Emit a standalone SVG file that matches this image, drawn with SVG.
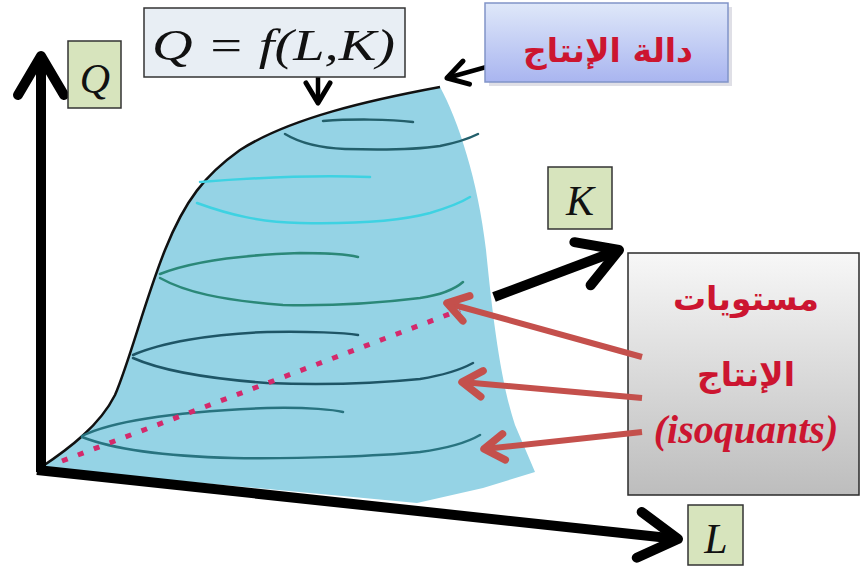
<svg xmlns="http://www.w3.org/2000/svg" width="861" height="566" viewBox="0 0 861 566">
<style>
.axis{stroke:#000;stroke-width:10;fill:none;stroke-linecap:butt}
.thin{stroke:#000;stroke-width:4.5;fill:none}
.red{stroke:#c4504c;stroke-width:6;fill:none}
.iso{fill:none;stroke-width:2.5;stroke-linecap:round}
.lbl{fill:#d7e4bd;stroke:#333;stroke-width:1.5}
.math{font-family:"Liberation Serif","Times New Roman",serif;font-style:italic;fill:#111}
.ar{font-family:"DejaVu Sans","Noto Sans",sans-serif;font-weight:bold;fill:#cc1530;text-anchor:middle}
</style>
<defs>
<marker id="bigHead" markerUnits="userSpaceOnUse" viewBox="0 0 50 50" markerWidth="50" markerHeight="50" refX="45" refY="25" orient="auto" overflow="visible">
<path d="M6,2 L45,25 L6,48" fill="none" stroke="#000" stroke-width="10" stroke-linecap="round" stroke-linejoin="round"/>
</marker>
<marker id="smallHead" markerUnits="userSpaceOnUse" viewBox="0 0 30 30" markerWidth="30" markerHeight="30" refX="26" refY="15" orient="auto" overflow="visible">
<path d="M6,3 L26,15 L6,27" fill="none" stroke="#000" stroke-width="5" stroke-linecap="round" stroke-linejoin="round"/>
</marker>
<marker id="redHead" markerUnits="userSpaceOnUse" viewBox="0 0 32 32" markerWidth="32" markerHeight="32" refX="28" refY="16" orient="auto" overflow="visible">
<path d="M8,3 L28,16 L8,29" fill="none" stroke="#c4504c" stroke-width="7.5" stroke-linecap="round" stroke-linejoin="round"/>
</marker>
<linearGradient id="blueG" x1="0" y1="0" x2="0" y2="1">
<stop offset="0" stop-color="#dfe8f9"/>
<stop offset="1" stop-color="#a9b5f0"/>
</linearGradient>
<linearGradient id="greyG" x1="0" y1="0" x2="0" y2="1">
<stop offset="0" stop-color="#f7f7f7"/>
<stop offset="1" stop-color="#bdbdbd"/>
</linearGradient>
</defs>

<g id="surface">
<path d="M40,468 C70,448 100,425 115,395 C130,360 145,300 165,250 C185,200 205,175 240,150 C290,118 370,100 440,87 C458,120 478,180 486,250 C492,310 500,380 515,425 L535,472 L483,488 L417,503 Z" fill="#95d3e5"/>
<path d="M40,468 C70,448 100,425 115,395 C130,360 145,300 165,250 C185,200 205,175 240,150 C290,118 370,100 440,87" fill="none" stroke="#111" stroke-width="2.5"/>
<g id="isoquants">
<path class="iso" stroke="#235f6b" d="M323,121 C350,119 390,119 413,122"/>
<path class="iso" stroke="#235f6b" d="M285,134 C300,143 320,148 345,149 C380,150 420,149 440,146 C455,143 468,139 478,134"/>
<path class="iso" stroke="#3ed2e2" stroke-width="3" d="M200,182 C250,178 320,175 370,177"/>
<path class="iso" stroke="#3ed2e2" stroke-width="3" d="M197,203 C230,215 260,222 300,223 C350,224 400,221 430,213 C450,207 462,202 470,197"/>
<path class="iso" stroke="#2b8878" d="M160,274 C190,262 240,255 300,253 C330,253 350,255 358,257"/>
<path class="iso" stroke="#2b8878" d="M160,278 C185,292 220,300 283,305 C330,306 380,303 420,298 C440,295 455,289 463,282"/>
<path class="iso" stroke="#1e5566" d="M133,355 C160,343 210,334 267,332 C310,331 345,333 358,335"/>
<path class="iso" stroke="#1e5566" d="M133,358 C160,370 200,378 267,383 C320,385 380,383 420,379 C445,375 462,369 473,363"/>
<path class="iso" stroke="#28737f" d="M82,436 C110,422 170,412 267,408 C310,407 335,410 343,412"/>
<path class="iso" stroke="#28737f" d="M82,437 C110,448 160,456 233,458 C300,459 380,456 420,452 C450,448 468,442 480,435"/>
</g>
<path d="M62,461 L460,310" stroke="#d4296b" stroke-width="5" stroke-dasharray="6 11" fill="none"/>
</g>

<g id="connectors">
<path class="axis" d="M41,472 L41,56" marker-end="url(#bigHead)"/>
<path class="axis" d="M37,470 L678,539" marker-end="url(#bigHead)"/>
<path class="axis" d="M494,297 L619,250" marker-end="url(#bigHead)"/>
<path class="thin" d="M318,66 L318,103" marker-end="url(#smallHead)"/>
<path class="thin" d="M522,57 L447,78" marker-end="url(#smallHead)"/>
</g>

<g id="node-Q">
<rect class="lbl" x="68" y="41" width="53" height="67"/>
<text class="math" x="95" y="93" font-size="42" text-anchor="middle">Q</text>
</g>
<g id="node-K">
<rect class="lbl" x="548" y="167" width="64" height="62"/>
<text class="math" x="580" y="215" font-size="42" text-anchor="middle">K</text>
</g>
<g id="node-L">
<rect class="lbl" x="688" y="505" width="55" height="60"/>
<text class="math" x="716" y="553" font-size="42" text-anchor="middle">L</text>
</g>

<g id="node-formula">
<rect x="144" y="8" width="261" height="69" fill="#e8eef4" stroke="#333" stroke-width="1.5"/>
<text class="math" x="152" y="60" font-size="45" textLength="243" lengthAdjust="spacingAndGlyphs">Q = f(L,K)</text>
</g>

<g id="node-production-function">
<rect x="489" y="7" width="243" height="79" fill="#b8b8c8" opacity="0.45"/>
<rect x="485" y="3" width="243" height="79" fill="url(#blueG)" stroke="#8194c8" stroke-width="1.5"/>
<text class="ar" x="608" y="62" font-size="33" direction="rtl">دالة الإنتاج</text>
</g>

<g id="node-isoquants">
<rect x="628" y="253" width="231" height="242" fill="url(#greyG)" stroke="#2a2a2a" stroke-width="1.5"/>
<text class="ar" x="746" y="310" font-size="33" direction="rtl">مستويات</text>
<text class="ar" x="746" y="386" font-size="33" direction="rtl">الإنتاج</text>
<text x="746" y="443" font-size="40" font-family="Liberation Serif, Times New Roman, serif" font-style="italic" font-weight="bold" fill="#cc1530" text-anchor="middle">(isoquants)</text>
</g>

<g id="red-connectors">
<path class="red" d="M642,357 L447,303" marker-end="url(#redHead)"/>
<path class="red" d="M642,398 L462,382" marker-end="url(#redHead)"/>
<path class="red" d="M642,432 L484,449" marker-end="url(#redHead)"/>
</g>
</svg>
